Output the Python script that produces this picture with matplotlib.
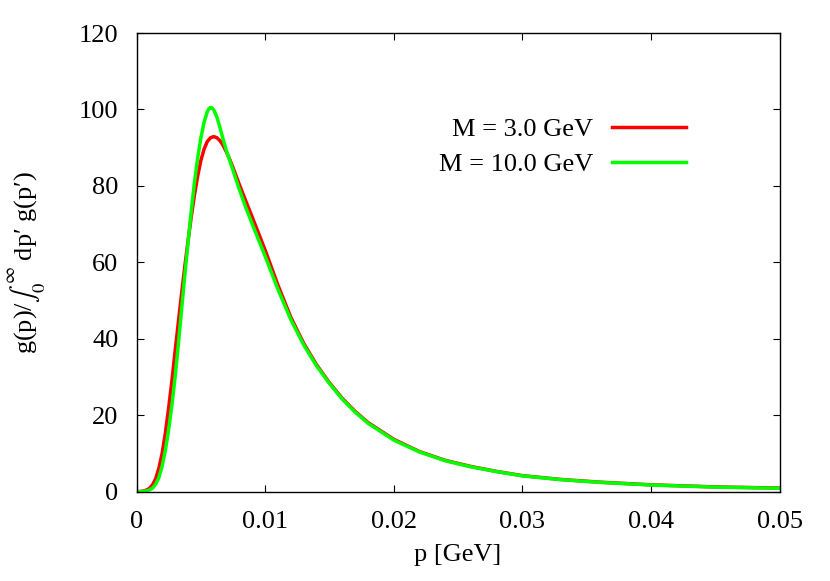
import matplotlib
matplotlib.use('Agg')
import matplotlib.pyplot as plt
import numpy as np

# momentum in units of 1e-3 GeV; values are normalised g(p)
p_red = [0.0, 0.25, 0.5, 0.75, 1.0, 1.25, 1.5, 1.75, 2.0, 2.25, 2.5, 2.75,
         3.0, 3.25, 3.5, 3.75, 4.0, 4.25, 4.5, 4.75, 5.0, 5.25, 5.5, 5.75,
         6.0, 6.25, 6.5, 6.75, 7.0, 7.25, 7.5, 8.0, 8.5, 9.0, 10, 11, 12,
         13, 14, 15, 16, 17, 18, 20, 22, 24, 26, 28, 30, 33, 36, 40, 45, 50]
g_red = [0.0, 0.05, 0.15, 0.4, 0.85, 1.8, 3.5, 6.3, 10.2, 15.5, 22.0, 29.0,
         36.8, 44.3, 51.7, 58.8, 65.5, 71.8, 77.5, 82.5, 86.6, 89.6, 91.6,
         92.6, 92.9, 92.6, 91.8, 90.5, 88.8, 86.9, 84.8, 80.3, 76.0, 71.8,
         63.2, 54.0, 45.6, 38.8, 33.2, 28.5, 24.4, 21.0, 18.1, 13.7, 10.5,
         8.2, 6.6, 5.3, 4.2, 3.2, 2.5, 1.8, 1.25, 0.95]

p_green = [0.0, 0.25, 0.5, 0.75, 1.0, 1.25, 1.5, 1.75, 2.0, 2.25, 2.5, 2.75,
           3.0, 3.25, 3.5, 3.75, 4.0, 4.25, 4.5, 4.75, 5.0, 5.25, 5.5, 5.625,
           5.75, 5.875, 6.0, 6.25, 6.5, 6.75, 7.0, 7.25, 7.5, 8.0, 8.5, 9.0,
           10, 11, 12, 13, 14, 15, 16, 17, 18, 20, 22, 24, 26, 28, 30, 33,
           36, 40, 45, 50]
g_green = [0.0, 0.02, 0.06, 0.2, 0.45, 0.95, 2.0, 3.8, 6.8, 11.0, 16.3, 22.6,
           30.0, 38.5, 47.5, 56.5, 65.0, 73.3, 80.8, 87.2, 92.5, 96.6, 99.4,
           100.2, 100.5, 100.4, 99.9, 98.0, 95.1, 92.0, 89.1, 86.6, 84.1,
           79.0, 74.3, 70.0, 61.6, 52.9, 45.0, 38.4, 32.9, 28.3, 24.2, 20.8,
           17.9, 13.5, 10.4, 8.1, 6.5, 5.25, 4.15, 3.15, 2.45, 1.75, 1.2, 0.9]

labels = ['M = 3.0 GeV', 'M = 10.0 GeV']
colors = ['#ff0000', '#00ff00']

plt.rcParams['font.family'] = ['Liberation Serif', 'DejaVu Serif']
plt.rcParams['mathtext.fontset'] = 'stix'

fig = plt.figure(figsize=(8.3, 5.81), dpi=100)
ax = fig.add_axes([0.1645, 0.1537, 0.7747, 0.7895])

ax.plot(np.array(p_red) * 1e-3, g_red, color=colors[0], lw=2.5, label=labels[0])
ax.plot(np.array(p_green) * 1e-3, g_green, color=colors[1], lw=2.5, label=labels[1])

ax.set_xlim(0, 0.05)
ax.set_ylim(0, 120)
ax.set_xticks([0, 0.01, 0.02, 0.03, 0.04, 0.05])
ax.set_xticklabels(['0', '0.01', '0.02', '0.03', '0.04', '0.05'])
ax.set_yticks(np.arange(0, 121, 20))
ax.tick_params(direction='in', length=5, width=0.8, top=True, right=True,
               labelsize=19)
ax.tick_params(axis='x', pad=14)
ax.tick_params(axis='y', pad=13)
for s in ax.spines.values():
    s.set_linewidth(1.0)

ax.set_xlabel('p [GeV]', fontsize=19, labelpad=8)
ax.set_ylabel(r'g(p)/$\int_0^\infty$ dp′ g(p′)', fontsize=19, labelpad=22)

ax.legend(loc='upper right', bbox_to_anchor=(0.855, 0.815), frameon=False,
          markerfirst=False, fontsize=19, handlelength=2.8, borderpad=0,
          borderaxespad=0, labelspacing=0.43, handletextpad=0.72)

plt.savefig('out.png', dpi=100)
